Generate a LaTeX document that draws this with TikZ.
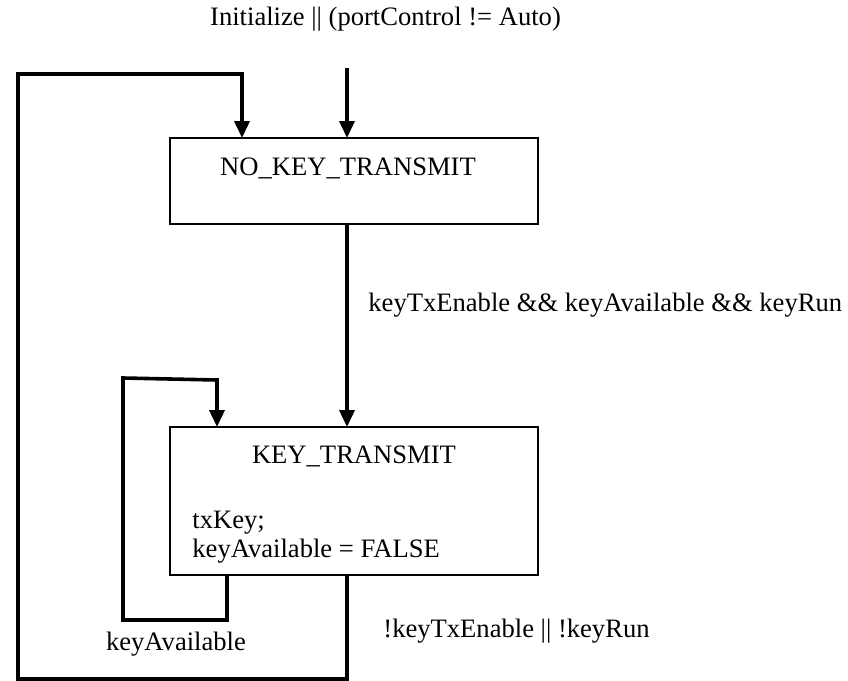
\documentclass[tikz,border=0pt]{standalone}
\usepackage{fontspec}
\setmainfont{Liberation Serif}
\usetikzlibrary{arrows.meta,calc}
\tikzset{
  statebox/.style={draw, line width=0.85pt, inner sep=0pt, outer sep=0pt,
                   minimum width=184pt},
  trans/.style={line width=1.8pt, -{Triangle[width=7.5pt,length=8.5pt]}},
  txt/.style={inner sep=0pt, font=\fontsize{13.3}{16}\selectfont},
}
\begin{document}
\begin{tikzpicture}[x=0.5pt, y=-0.5pt]
  \useasboundingbox (0,0) rectangle (848,681);

  % states
  \node[statebox, minimum height=43pt] (nokey) at (354,181) {};
  \node[statebox, minimum height=74pt] (key) at (354,501) {};

  \node[txt, anchor=base] (nokeyname) at (348,175) {NO\_KEY\_TRANSMIT};
  \node[txt, anchor=base] (keyname) at (354,463) {KEY\_TRANSMIT};
  \node[txt, anchor=base west] (act1) at (192,528) {txKey;};
  \node[txt, anchor=base west] (act2) at (192,557) {keyAvailable = FALSE};

  % helper points
  \coordinate (initTop) at (347,68);
  \coordinate (exitBot) at (347,679);
  \coordinate (outerBL) at (18,679);
  \coordinate (outerTL) at (18,74);
  \coordinate (outerTR) at (242,74);
  \coordinate (selfOut) at (227,575);
  \coordinate (selfBR) at (227,620);
  \coordinate (selfBL) at (123,620);
  \coordinate (selfTL) at (123,378);
  \coordinate (selfTR) at (217,380);

  % initial transition
  \draw[trans] (initTop) -- (initTop |- nokey.north);
  % NO_KEY_TRANSMIT -> KEY_TRANSMIT
  \draw[trans] (nokey.south -| initTop) -- (key.north -| initTop);
  % KEY_TRANSMIT -> NO_KEY_TRANSMIT
  \draw[trans] (key.south -| initTop) -- (exitBot) -- (outerBL) -- (outerTL)
        -- (outerTR) -- (outerTR |- nokey.north);
  % self loop on KEY_TRANSMIT
  \draw[trans] (selfOut |- key.south) -- (selfBR) -- (selfBL) -- (selfTL)
        -- (selfTR) -- (selfTR |- key.north);

  % transition labels
  \node[txt, anchor=base] (initlbl) at (385.5,25) {Initialize || (portControl != Auto)};
  \node[txt, anchor=base west] (golbl) at (368,311) {keyTxEnable \&\& keyAvailable \&\& keyRun};
  \node[txt, anchor=base west] (backlbl) at (383,637) {!keyTxEnable || !keyRun};
  \node[txt, anchor=base] (selflbl) at (176,650) {keyAvailable};
\end{tikzpicture}
\end{document}
